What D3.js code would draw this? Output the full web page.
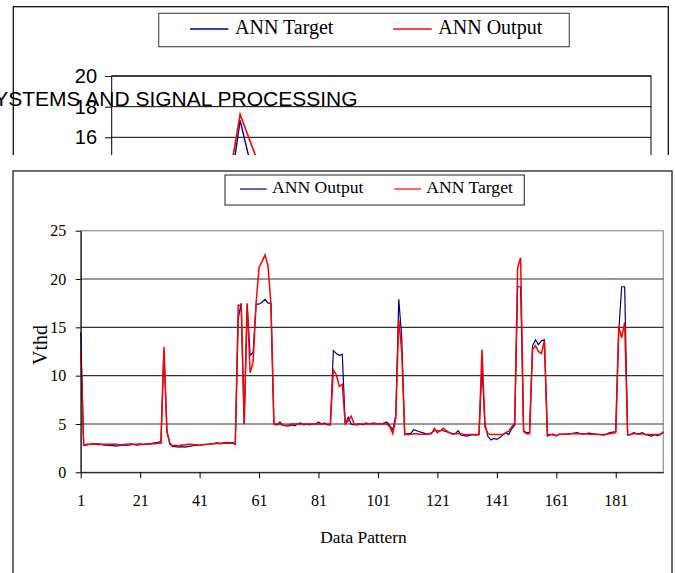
<!DOCTYPE html>
<html>
<head>
<meta charset="utf-8">
<script src="https://cdn.jsdelivr.net/npm/d3@7"></script>
<style>
body { margin: 0; background: #fff; }
svg { display: block; }
</style>
</head>
<body>
<div id="chart"></div>
<script>
// main figure: ANN output vs ANN target, 197 data patterns
const annOutput = [
    14.5, 2.8, 2.8, 2.9, 2.9, 2.9, 2.85, 2.85, 2.8, 2.8,
    2.75, 2.75, 2.7, 2.75, 2.8, 2.8, 2.8, 2.85, 2.85, 2.8,
    2.85, 2.85, 2.9, 2.95, 3.0, 3.05, 3.1, 3.2, 12.7, 4.3,
    2.9, 2.65, 2.65, 2.6, 2.65, 2.6, 2.65, 2.7, 2.75, 2.8,
    2.8, 2.85, 2.85, 2.9, 2.95, 3.0, 3.05, 3.0, 3.05, 3.1,
    3.05, 3.1, 2.9, 15.9, 17.5, 5.0, 17.3, 12.1, 12.4, 17.4,
    17.4, 17.6, 17.9, 17.5, 17.5, 5.0, 4.9, 5.2, 4.9, 4.8,
    4.8, 4.9, 4.8, 5.0, 5.1, 4.9, 5.0, 4.9, 5.0, 5.0,
    5.2, 5.0, 5.1, 4.9, 4.9, 12.6, 12.3, 12.1, 12.2, 5.0,
    5.7, 5.0, 4.9, 5.0, 5.0, 4.9, 5.1, 5.0, 5.1, 5.1,
    5.0, 5.0, 5.1, 5.2, 4.8, 4.4, 5.9, 17.9, 14.0, 3.9,
    4.0, 4.0, 4.4, 4.3, 4.2, 4.1, 4.0, 3.95, 4.1, 4.3,
    4.3, 4.3, 4.3, 4.2, 4.1, 4.0, 4.0, 4.3, 3.85, 3.8,
    3.75, 3.85, 3.9, 3.85, 3.9, 11.0, 5.0, 3.7, 3.35, 3.5,
    3.4, 3.6, 3.85, 4.1, 3.9, 4.5, 4.9, 19.2, 19.2, 4.3,
    4.1, 4.1, 13.1, 13.7, 13.2, 13.6, 13.7, 3.75, 3.9, 3.95,
    3.75, 3.95, 3.9, 3.95, 3.95, 4.0, 4.05, 4.1, 4.0, 3.95,
    4.0, 4.05, 4.0, 3.95, 3.9, 3.9, 3.85, 3.95, 4.1, 4.15,
    4.2, 14.5, 19.2, 19.2, 3.85, 3.9, 4.1, 4.0, 4.0, 4.1,
    3.9, 3.85, 3.75, 3.9, 3.8, 3.9, 4.2
];
const annTarget = [
    12.9, 2.8, 2.9, 2.9, 2.95, 2.95, 2.95, 2.9, 2.9, 2.9,
    2.9, 2.9, 2.9, 2.85, 2.85, 2.9, 2.9, 2.95, 2.9, 2.9,
    2.95, 2.9, 2.95, 2.9, 2.95, 2.95, 3.0, 3.0, 13.0, 4.2,
    3.0, 2.75, 2.8, 2.7, 2.85, 2.8, 2.9, 2.9, 2.85, 2.85,
    2.8, 2.85, 2.9, 2.9, 2.95, 2.95, 3.0, 2.95, 3.0, 3.0,
    3.0, 3.0, 2.9, 17.3, 17.2, 5.0, 17.5, 10.3, 11.4, 17.5,
    21.2, 21.8, 22.5, 21.4, 17.4, 5.0, 5.0, 5.0, 4.9, 4.85,
    4.9, 5.0, 5.0, 5.0, 5.0, 5.0, 5.0, 5.0, 5.0, 5.0,
    5.0, 5.0, 5.0, 5.0, 5.0, 10.6, 10.1, 8.9, 9.1, 5.0,
    5.3, 5.8, 5.0, 4.9, 5.0, 5.0, 5.0, 5.0, 5.0, 5.0,
    5.0, 5.0, 5.0, 5.0, 4.7, 4.0, 5.6, 15.8, 12.5, 3.9,
    3.9, 3.9, 4.0, 4.0, 3.95, 3.95, 3.95, 4.0, 4.0, 4.55,
    4.1, 4.3, 4.55, 4.3, 4.1, 3.95, 4.0, 4.0, 4.0, 3.9,
    3.9, 3.9, 3.9, 3.9, 3.9, 12.7, 4.7, 4.0, 3.9, 3.9,
    3.9, 3.9, 3.9, 4.1, 4.25, 4.7, 5.1, 21.2, 22.2, 4.2,
    4.0, 4.0, 12.7, 13.1, 12.5, 12.3, 13.6, 3.9, 3.9, 3.85,
    3.8, 3.95, 3.95, 3.95, 4.0, 4.0, 4.0, 4.0, 4.0, 4.0,
    4.0, 3.95, 3.95, 3.95, 3.95, 3.9, 3.9, 3.95, 4.0, 4.05,
    4.1, 15.1, 13.9, 15.5, 3.9, 3.9, 4.0, 4.0, 3.95, 4.0,
    3.9, 3.9, 3.9, 3.9, 3.9, 3.95, 4.1
];
const patterns = annOutput.map((d, i) => i + 1);
const xTickValues = [1, 21, 41, 61, 81, 101, 121, 141, 161, 181];
const yTickValues = [0, 5, 10, 15, 20, 25];

// bit of the previous figure on the page, cut off at the bottom
const fragPatterns = [5, 6, 7];
const fragTarget = [5.4, 17.1, 10.1];
const fragOutput = [7.5, 17.5, 13.0];
const fragTicks = [16, 18, 20];

const navy = "#000080", red = "#ff0000";
const serif = "'Liberation Serif', 'Times New Roman', serif";
const sans = "'Liberation Sans', Arial, sans-serif";

const svg = d3.select("#chart").append("svg")
    .attr("width", 675)
    .attr("height", 573);

svg.append("defs").append("clipPath")
    .attr("id", "fragClip")
    .append("rect")
    .attr("x", 0).attr("y", 0)
    .attr("width", 675).attr("height", 155);

// ---------- fragment ----------
let frag = svg.append("g").attr("clip-path", "url(#fragClip)");

frag.append("rect")
    .attr("x", 13.3).attr("y", 6.7)
    .attr("width", 655).attr("height", 300)
    .style("fill", "none")
    .style("stroke", "#111")
    .style("stroke-width", 1.3);

let fx = d3.scaleLinear().domain([1, 22]).range([111.7, 651]);
let fy = d3.scaleLinear().domain([0, 20]).range([382.6, 76]);

frag.append("rect")
    .attr("x", 111.7).attr("y", 76)
    .attr("width", 539.3).attr("height", 306.6)
    .style("fill", "none")
    .style("stroke", "#000");

frag.selectAll(".fgrid")
    .data(fragTicks)
    .enter().append("line")
    .attr("class", "fgrid")
    .attr("x1", 111.7).attr("x2", 651)
    .attr("y1", d => fy(d)).attr("y2", d => fy(d))
    .style("stroke", "#000");

frag.append("g")
    .attr("transform", "translate(111.7,0)")
    .call(d3.axisLeft(fy).tickValues(fragTicks).tickSize(6.7).tickSizeOuter(0).tickPadding(8))
    .attr("font-family", sans)
    .attr("font-size", 20)
    .call(g => g.select(".domain").remove());

let fragLine = d3.line()
    .x((d, i) => fx(fragPatterns[i]))
    .y(d => fy(d));

frag.append("path")
    .datum(fragTarget)
    .attr("d", fragLine)
    .style("fill", "none")
    .style("stroke", navy)
    .style("stroke-width", 1.4);

frag.append("path")
    .datum(fragOutput)
    .attr("d", fragLine)
    .style("fill", "none")
    .style("stroke", red)
    .style("stroke-width", 1.6);

// fragment legend
frag.append("rect")
    .attr("x", 158.7).attr("y", 13.3)
    .attr("width", 410.6).attr("height", 33.4)
    .style("fill", "#fff")
    .style("stroke", "#555")
    .style("stroke-width", 1.2);

let fragLegend = [
    { name: "ANN Target", color: navy, x: 190 },
    { name: "ANN Output", color: red, x: 393.3 }
];
fragLegend.forEach(d => {
    frag.append("line")
        .attr("x1", d.x).attr("x2", d.x + 38.4)
        .attr("y1", 29).attr("y2", 29)
        .style("stroke", d.color)
        .style("stroke-width", 1.4);
    frag.append("text")
        .attr("x", d.x + 45).attr("y", 34)
        .attr("font-family", serif)
        .attr("font-size", 20)
        .style("fill", "#000")
        .text(d.name);
});

// running header of the page, printed over the fragment
svg.append("text")
    .attr("x", 357.5).attr("y", 106.3)
    .attr("text-anchor", "end")
    .attr("font-family", sans)
    .attr("font-size", 21)
    .style("fill", "#000")
    .text("SYSTEMS AND SIGNAL PROCESSING");

// ---------- main chart ----------
svg.append("rect")
    .attr("x", 13).attr("y", 171)
    .attr("width", 659).attr("height", 420)
    .style("fill", "none")
    .style("stroke", "#222")
    .style("stroke-width", 1.3);

let x = d3.scaleLinear().domain([1, 197]).range([80.7, 663.3]);
let y = d3.scaleLinear().domain([0, 25]).range([472.3, 230.7]);

svg.append("rect")
    .attr("x", 80.7).attr("y", y(25))
    .attr("width", 582.6).attr("height", y(0) - y(25))
    .style("fill", "none")
    .style("stroke", "#999")
    .style("stroke-width", 1.3);

svg.selectAll(".grid")
    .data(yTickValues.filter(d => d > 0 && d < 25))
    .enter().append("line")
    .attr("class", "grid")
    .attr("x1", 80.7).attr("x2", 663.3)
    .attr("y1", d => y(d)).attr("y2", d => y(d))
    .style("stroke", "#333")
    .style("stroke-width", 1.1);

let line = d3.line()
    .x((d, i) => x(patterns[i]))
    .y(d => y(d));

svg.append("path")
    .datum(annOutput)
    .attr("d", line)
    .style("fill", "none")
    .style("stroke", navy)
    .style("stroke-width", 1.2);

svg.append("path")
    .datum(annTarget)
    .attr("d", line)
    .style("fill", "none")
    .style("stroke", red)
    .style("stroke-width", 1.5);

svg.append("g")
    .attr("transform", "translate(80.7,0)")
    .call(d3.axisLeft(y).tickValues(yTickValues).tickSize(5).tickSizeOuter(0).tickPadding(9.5))
    .attr("font-family", serif)
    .attr("font-size", 16)
    .call(g => g.selectAll("line, path").style("stroke", "#000"));

svg.append("g")
    .attr("transform", "translate(0," + y(0) + ")")
    .call(d3.axisBottom(x).tickValues(xTickValues).tickSize(6).tickSizeOuter(0).tickPadding(16))
    .attr("font-family", serif)
    .attr("font-size", 16)
    .call(g => g.selectAll("line, path").style("stroke", "#000"));

svg.append("text")
    .attr("x", 363.5).attr("y", 543.3)
    .attr("text-anchor", "middle")
    .attr("font-family", serif)
    .attr("font-size", 17.4)
    .text("Data Pattern");

svg.append("text")
    .attr("transform", "translate(46.5,345) rotate(-90)")
    .attr("text-anchor", "middle")
    .attr("font-family", serif)
    .attr("font-size", 20)
    .text("Vthd");

// main legend
svg.append("rect")
    .attr("x", 225).attr("y", 175)
    .attr("width", 299.3).attr("height", 30)
    .style("fill", "#fff")
    .style("stroke", "#333")
    .style("stroke-width", 1.1);

let legend = [
    { name: "ANN Output", color: navy, x: 240 },
    { name: "ANN Target", color: red, x: 394.3 }
];
legend.forEach(d => {
    svg.append("line")
        .attr("x1", d.x).attr("x2", d.x + 26.7)
        .attr("y1", 189).attr("y2", 189)
        .style("stroke", d.color)
        .style("stroke-width", 1.2);
    svg.append("text")
        .attr("x", d.x + 32).attr("y", 192.5)
        .attr("font-family", serif)
        .attr("font-size", 17.6)
        .text(d.name);
});
</script>
</body>
</html>
